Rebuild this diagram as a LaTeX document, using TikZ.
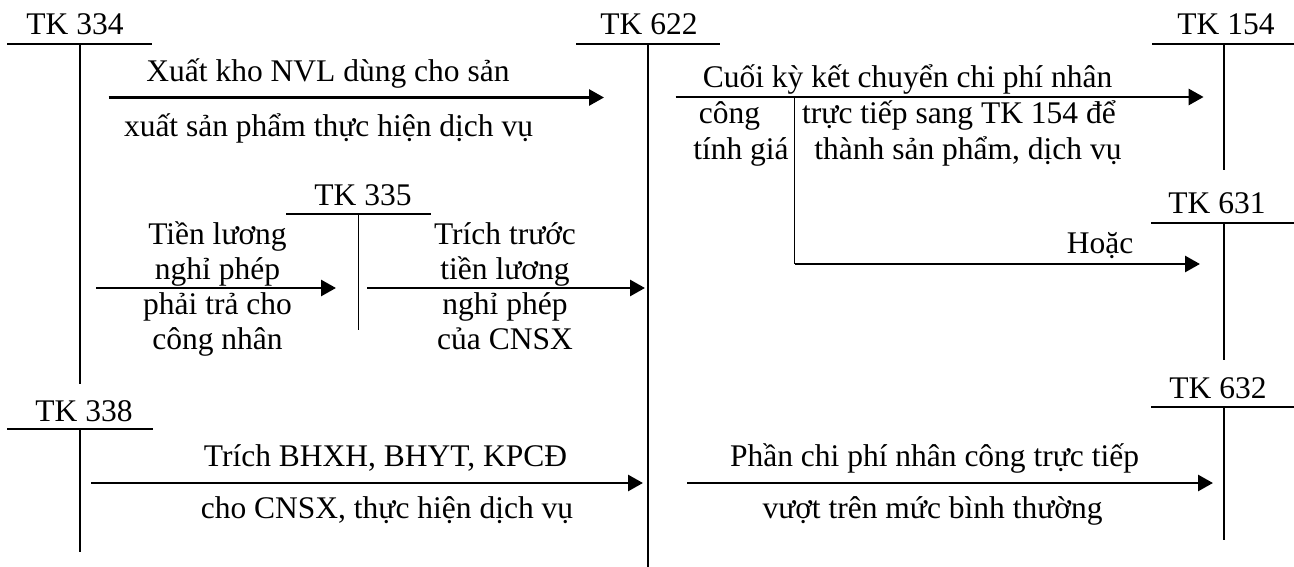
\documentclass[tikz,border=0pt]{standalone}
\usepackage{fontspec}
\setmainfont{Liberation Serif}
\usetikzlibrary{arrows.meta}
\begin{document}
\begin{tikzpicture}[x=1pt,y=-1pt,
  lbl/.style={anchor=base,inner sep=0pt,font=\fontsize{31.5}{35}\selectfont},
  tline/.style={line width=2pt},
  vline/.style={line width=1.6pt},
  flow/.style={line width=2.8pt,-{Triangle[length=15pt,width=16pt]}}]
\useasboundingbox (0,0) rectangle (1294,567);
% ---------- T accounts ----------
% TK 334
\node[lbl] (t334) at (75,35) {TK 334};
\coordinate (a334l) at (7,44); \coordinate (a334r) at (152,44);
\coordinate (a334t) at (80,44); \coordinate (a334b) at (80,384);
\draw[tline] (a334l) -- (a334r); \draw[vline] (a334t) -- (a334b);
% TK 622
\node[lbl] (t622) at (649,35) {TK 622};
\coordinate (a622l) at (576,44); \coordinate (a622r) at (720,44);
\coordinate (a622t) at (648,44); \coordinate (a622b) at (648,567);
\draw[tline] (a622l) -- (a622r); \draw[vline] (a622t) -- (a622b);
% TK 154
\node[lbl] (t154) at (1226,35) {TK 154};
\coordinate (a154l) at (1152,44); \coordinate (a154r) at (1294,44);
\coordinate (a154t) at (1224,44); \coordinate (a154b) at (1224,170);
\draw[tline] (a154l) -- (a154r); \draw[vline] (a154t) -- (a154b);
% TK 631
\node[lbl] (t631) at (1217,214) {TK 631};
\coordinate (a631l) at (1151,223); \coordinate (a631r) at (1294,223);
\coordinate (a631t) at (1224,223); \coordinate (a631b) at (1224,360);
\draw[tline] (a631l) -- (a631r); \draw[vline] (a631t) -- (a631b);
% TK 632
\node[lbl] (t632) at (1218,398) {TK 632};
\coordinate (a632l) at (1151,407); \coordinate (a632r) at (1294,407);
\coordinate (a632t) at (1224,407); \coordinate (a632b) at (1224,540);
\draw[tline] (a632l) -- (a632r); \draw[vline] (a632t) -- (a632b);
% TK 335
\node[lbl] (t335) at (363,205) {TK 335};
\coordinate (a335l) at (286,214); \coordinate (a335r) at (431,214);
\coordinate (a335t) at (358.6,214); \coordinate (a335b) at (358.6,330);
\draw[tline] (a335l) -- (a335r); \draw[vline] (a335t) -- (a335b);
% TK 338
\node[lbl] (t338) at (84,421.7) {TK 338};
\coordinate (a338l) at (7,429); \coordinate (a338r) at (153,429);
\coordinate (a338t) at (80,429); \coordinate (a338b) at (80,552);
\draw[tline] (a338l) -- (a338r); \draw[vline] (a338t) -- (a338b);
% ---------- flows ----------
% 334 -> 622
\coordinate (f1s) at (108.6,97.5); \coordinate (f1e) at (604,97.5);
\draw[flow] (f1s) -- (f1e);
\node[lbl] (f1a) at (328,82) {Xuất kho NVL dùng cho sản};
\node[lbl] (f1b) at (328.5,137) {xuất sản phẩm thực hiện dịch vụ};
% 622 -> 154
\coordinate (f2s) at (675.5,97); \coordinate (f2e) at (1203.6,97);
\draw[flow] (f2s) -- (f2e);
\node[lbl] (f2a) at (907.5,88) {Cuối kỳ kết chuyển chi phí nhân};
\node[lbl] (f2b) at (729.5,124) {công};
\node[lbl] (f2c) at (741,160) {tính giá};
\node[lbl] (f2d) at (959,124) {trực tiếp sang TK 154 để};
\node[lbl] (f2e2) at (968,160) {thành sản phẩm, dịch vụ};
% branch -> 631
\coordinate (br) at (794.6,97); \coordinate (bc) at (794.6,264);
\coordinate (f3e) at (1200,264);
\draw[vline] (br) -- (bc);
\draw[flow] (bc) -- (f3e);
\node[lbl] (f3a) at (1100,253) {Hoặc};
% 334 -> 335
\coordinate (f4s) at (96,288); \coordinate (f4e) at (336,288);
\draw[flow] (f4s) -- (f4e);
\node[lbl] (f4a) at (217.5,244) {Tiền lương};
\node[lbl] (f4b) at (217.5,279) {nghỉ phép};
\node[lbl] (f4c) at (217.5,314) {phải trả cho};
\node[lbl] (f4d) at (217.5,349) {công nhân};
% 335 -> 622
\coordinate (f5s) at (367,288); \coordinate (f5e) at (645,288);
\draw[flow] (f5s) -- (f5e);
\node[lbl] (f5a) at (505,244) {Trích trước};
\node[lbl] (f5b) at (505,279) {tiền lương};
\node[lbl] (f5c) at (505,314) {nghỉ phép};
\node[lbl] (f5d) at (505,349) {của CNSX};
% 338 -> 622
\coordinate (f6s) at (91,483); \coordinate (f6e) at (643,483);
\draw[flow] (f6s) -- (f6e);
\node[lbl] (f6a) at (385.5,466) {Trích BHXH, BHYT, KPCĐ};
\node[lbl] (f6b) at (387,518) {cho CNSX, thực hiện dịch vụ};
% 622 -> 632
\coordinate (f7s) at (687,483); \coordinate (f7e) at (1213,483);
\draw[flow] (f7s) -- (f7e);
\node[lbl] (f7a) at (934.5,466) {Phần chi phí nhân công trực tiếp};
\node[lbl] (f7b) at (932.5,518) {vượt trên mức bình thường};
\end{tikzpicture}
\end{document}
